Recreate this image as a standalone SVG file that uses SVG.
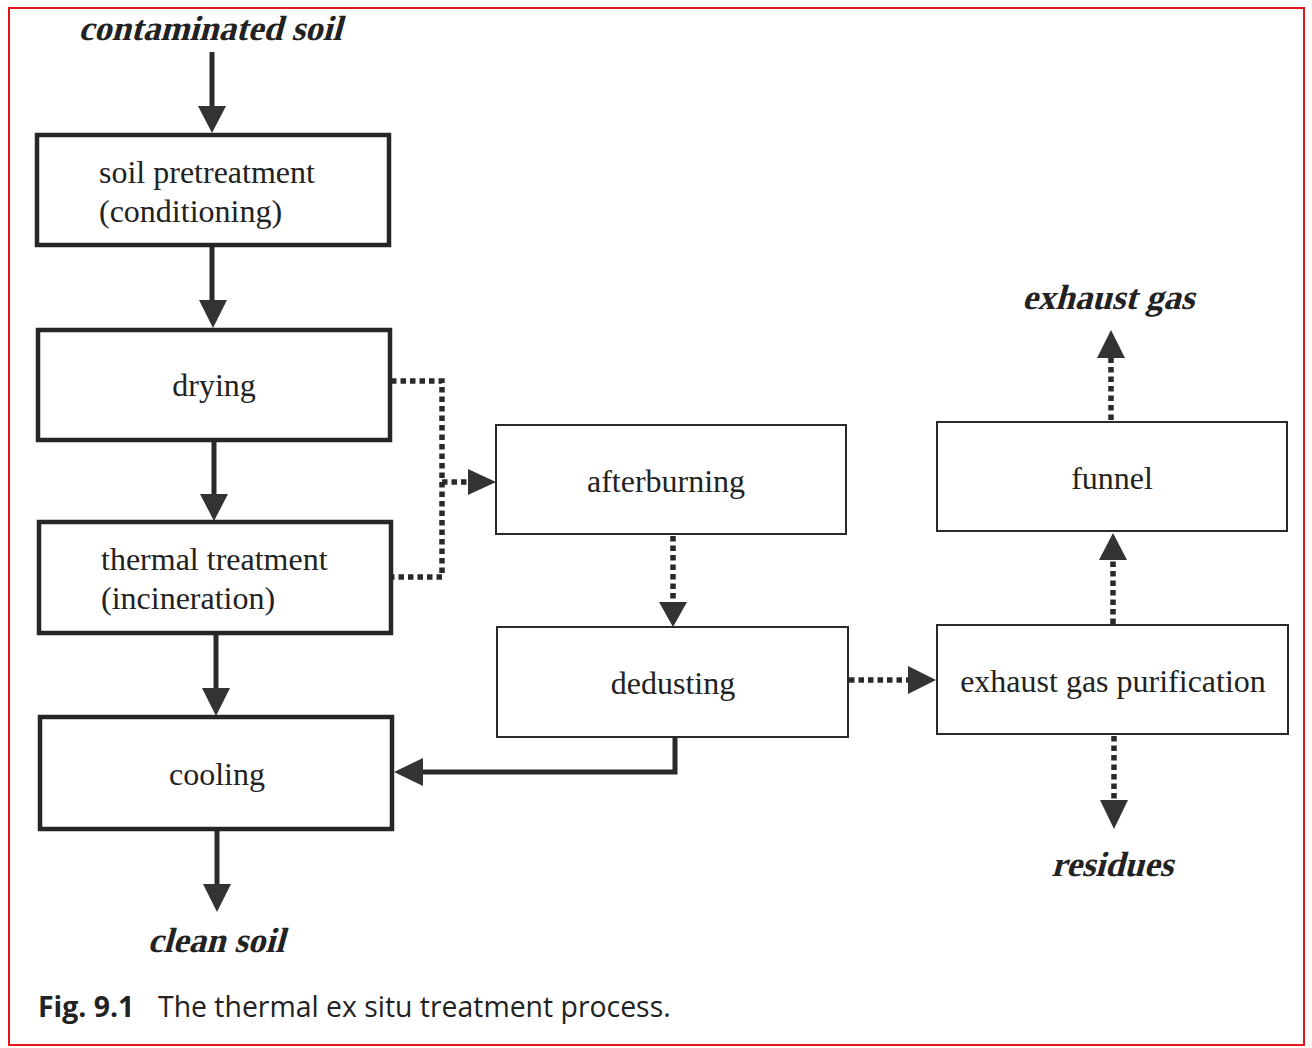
<svg xmlns="http://www.w3.org/2000/svg" width="1312" height="1048" viewBox="0 0 1312 1048">
<style>
.bg{fill:#fff}
.frame{fill:none;stroke:#e8141c;stroke-width:2}
.thick{fill:#fff;stroke:#262626;stroke-width:4.5}
.thin{fill:#fff;stroke:#2a2a2a;stroke-width:2}
.lbl{font-family:"Liberation Serif",serif;font-size:32px;fill:#222}
.io{font-family:"Liberation Serif",serif;font-size:35px;font-weight:bold;fill:#222}
.solid{fill:none;stroke:#2a2a2a;stroke-width:5}
.dot{fill:none;stroke:#2a2a2a;stroke-width:5.5;stroke-dasharray:5.5 4}
.head{fill:#333}
.cap{font-family:"Open Sans","Noto Sans",sans-serif;font-size:28.4px;fill:#222}
</style>
<rect class="bg" x="0" y="0" width="1312" height="1048"/>
<rect class="frame" x="9" y="8" width="1295" height="1037"/>

<g id="connectors">
  <line class="solid" x1="212" y1="52" x2="212" y2="108"/>
  <polygon class="head" points="198,106 226,106 212,133"/>
  <line class="solid" x1="212" y1="246" x2="212" y2="302"/>
  <polygon class="head" points="199,300 227,300 213,328"/>
  <line class="solid" x1="214" y1="441" x2="214" y2="496"/>
  <polygon class="head" points="200,494 228,494 214,521"/>
  <line class="solid" x1="216" y1="634" x2="216" y2="690"/>
  <polygon class="head" points="202,688 230,688 216,716"/>
  <line class="solid" x1="217" y1="830" x2="217" y2="886"/>
  <polygon class="head" points="203,884 231,884 217,912"/>
  <polyline class="solid" points="675,738 675,772 418,772"/>
  <polygon class="head" points="394,772 423,758 423,786"/>
  <polyline class="dot" points="391,381 442,381 442,577 392,577"/>
  <line class="dot" x1="442" y1="482" x2="470" y2="482"/>
  <polygon class="head" points="468,469 496,482 468,495"/>
  <line class="dot" x1="673" y1="536" x2="673" y2="604"/>
  <polygon class="head" points="659,602 687,602 673,627"/>
  <line class="dot" x1="849" y1="680" x2="910" y2="680"/>
  <polygon class="head" points="908,666 936,680 908,694"/>
  <line class="dot" x1="1113" y1="624" x2="1113" y2="558"/>
  <polygon class="head" points="1099,560 1127,560 1113,533"/>
  <line class="dot" x1="1111" y1="420" x2="1111" y2="356"/>
  <polygon class="head" points="1097,358 1125,358 1111,330"/>
  <line class="dot" x1="1114" y1="736" x2="1114" y2="802"/>
  <polygon class="head" points="1100,800 1128,800 1114,829"/>
</g>

<g id="contaminated-soil"><text class="io" transform="translate(210,40) skewX(-15)" text-anchor="middle">contaminated soil</text></g>
<g id="soil-pretreatment">
  <rect class="thick" x="37" y="135" width="352" height="110"/>
  <text class="lbl" x="99" y="183">soil pretreatment</text>
  <text class="lbl" x="99" y="222">(conditioning)</text>
</g>
<g id="drying">
  <rect class="thick" x="38" y="330" width="352" height="110"/>
  <text class="lbl" x="214" y="396" text-anchor="middle">drying</text>
</g>
<g id="thermal-treatment">
  <rect class="thick" x="39" y="522" width="352" height="111"/>
  <text class="lbl" x="101" y="570">thermal treatment</text>
  <text class="lbl" x="101" y="609">(incineration)</text>
</g>
<g id="cooling">
  <rect class="thick" x="40" y="717" width="352" height="112"/>
  <text class="lbl" x="217" y="785" text-anchor="middle">cooling</text>
</g>
<g id="clean-soil"><text class="io" transform="translate(216,952) skewX(-15)" text-anchor="middle">clean soil</text></g>
<g id="afterburning">
  <rect class="thin" x="496" y="425" width="350" height="109"/>
  <text class="lbl" x="666" y="492" text-anchor="middle">afterburning</text>
</g>
<g id="dedusting">
  <rect class="thin" x="497" y="627" width="351" height="110"/>
  <text class="lbl" x="673" y="694" text-anchor="middle">dedusting</text>
</g>
<g id="exhaust-gas-purification">
  <rect class="thin" x="937" y="625" width="351" height="109"/>
  <text class="lbl" x="1113" y="692" text-anchor="middle">exhaust gas purification</text>
</g>
<g id="funnel">
  <rect class="thin" x="937" y="422" width="350" height="109"/>
  <text class="lbl" x="1112" y="489" text-anchor="middle">funnel</text>
</g>
<g id="exhaust-gas"><text class="io" transform="translate(1108,309) skewX(-15)" text-anchor="middle">exhaust gas</text></g>
<g id="residues"><text class="io" transform="translate(1112,876) skewX(-15)" text-anchor="middle">residues</text></g>
<g id="caption">
  <text class="cap" x="38" y="1017"><tspan font-weight="bold">Fig. 9.1</tspan><tspan x="158">The thermal ex situ treatment process.</tspan></text>
</g>
</svg>
